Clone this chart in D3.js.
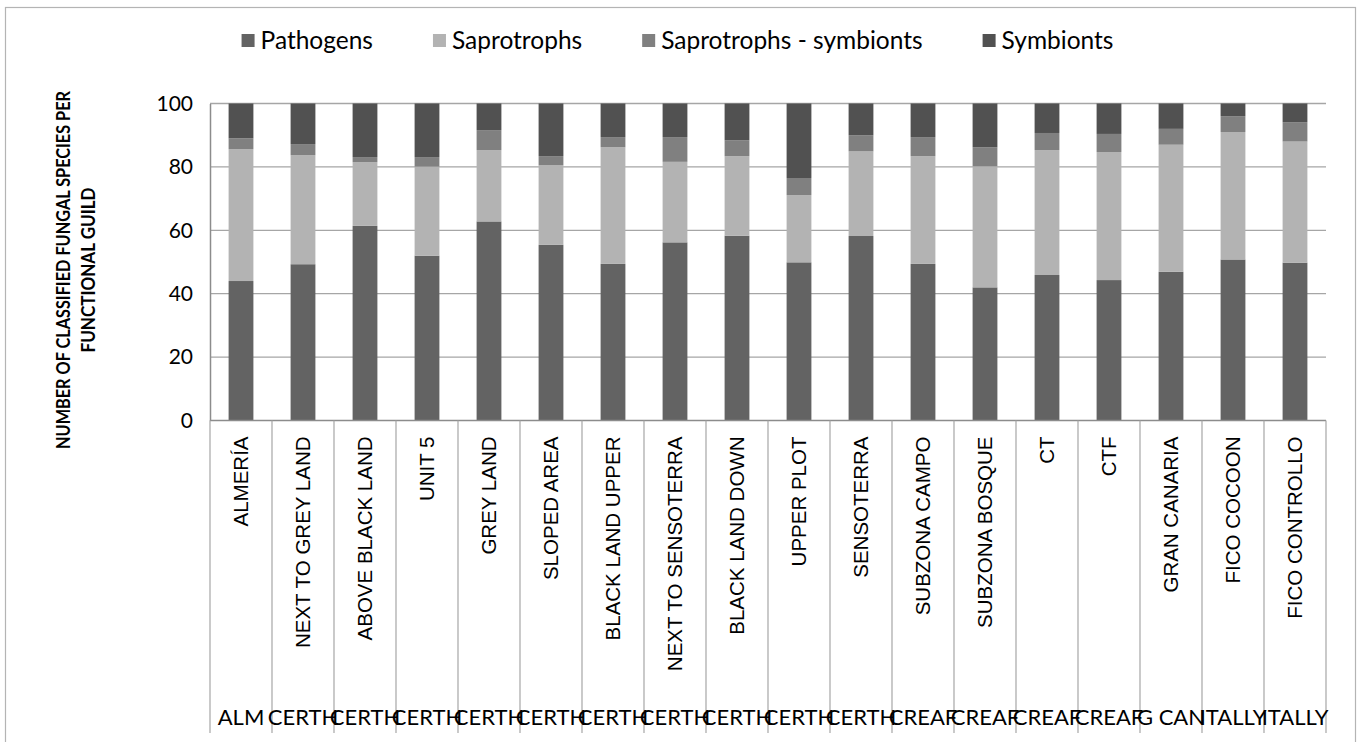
<!DOCTYPE html>
<html>
<head>
<meta charset="utf-8">
<script src="https://cdn.jsdelivr.net/npm/d3@7"></script>
<style>
  body { margin: 0; background: #fff; }
  svg { display: block; }
</style>
</head>
<body>
<div id="chart"></div>
<script>
// DATA
var sites = ["ALMERÍA", "NEXT TO GREY LAND", "ABOVE BLACK LAND", "UNIT 5", "GREY LAND",
  "SLOPED AREA", "BLACK LAND UPPER", "NEXT TO SENSOTERRA", "BLACK LAND DOWN", "UPPER PLOT",
  "SENSOTERRA", "SUBZONA CAMPO", "SUBZONA BOSQUE", "CT", "CTF", "GRAN CANARIA",
  "FICO COCOON", "FICO CONTROLLO"];
var groups = ["ALM", "CERTH", "CERTH", "CERTH", "CERTH", "CERTH", "CERTH", "CERTH", "CERTH",
  "CERTH", "CERTH", "CREAF", "CREAF", "CREAF", "CREAF", "G CAN", "ITALLY", "ITALLY"];
var guilds = ["Pathogens", "Saprotrophs", "Saprotrophs - symbionts", "Symbionts"];
var pathogens   = [44.0, 49.3, 61.4, 52.0, 62.8, 55.4, 49.4, 56.2, 58.3, 49.9, 58.2, 49.4, 42.0, 45.9, 44.3, 46.9, 50.8, 49.8];
var saprotrophs = [41.6, 34.4, 20.1, 28.1, 22.5, 25.1, 36.8, 25.4, 25.1, 21.2, 26.7, 34.0, 38.2, 39.4, 40.4, 40.1, 40.2, 38.2];
var sapSymb     = [3.4, 3.5, 1.6, 3.0, 6.3, 2.9, 3.2, 7.8, 5.0, 5.4, 5.1, 6.0, 6.0, 5.4, 5.7, 5.0, 5.0, 6.1];
var symbionts   = [11.0, 12.8, 16.9, 16.9, 8.4, 16.6, 10.6, 10.6, 11.6, 23.5, 10.0, 10.6, 13.8, 9.3, 9.6, 8.0, 4.0, 5.9];
var yTicks = [0, 20, 40, 60, 80, 100];

var colors = ["#636363", "#b3b3b3", "#808080", "#515151"];
var textFont = "Lato, 'Open Sans', sans-serif";

var W = 1363, H = 742;
var margin = {top: 103.5, left: 210, right: 37, bottom: 321.5};
var plotW = W - margin.left - margin.right,
    plotH = H - margin.top - margin.bottom;

var rows = sites.map(function(s, i) {
  return {site: s, group: groups[i],
    "Pathogens": pathogens[i], "Saprotrophs": saprotrophs[i],
    "Saprotrophs - symbionts": sapSymb[i], "Symbionts": symbionts[i]};
});

var svg = d3.select("#chart").append("svg")
  .attr("width", W)
  .attr("height", H);

// chart border
svg.append("rect")
  .attr("x", 5.5).attr("y", 7.5)
  .attr("width", 1350).attr("height", 760)
  .attr("fill", "none")
  .attr("stroke", "#b4b4b4")
  .attr("stroke-width", 1.2);

var g = svg.append("g")
  .attr("transform", "translate(" + margin.left + "," + margin.top + ")");

var x = d3.scaleBand()
  .domain(sites)
  .range([0, plotW])
  .paddingInner(0.6)
  .paddingOuter(0.3);

var y = d3.scaleLinear()
  .domain([0, 100])
  .range([plotH, 0]);

// gridlines
g.append("g").selectAll("line")
  .data(yTicks.slice(1))
  .enter().append("line")
  .attr("x1", 0).attr("x2", plotW)
  .attr("y1", function(d) { return y(d); })
  .attr("y2", function(d) { return y(d); })
  .attr("stroke", "#a6a6a6")
  .attr("stroke-width", 1.3);

// stacked bars
var stack = d3.stack().keys(guilds);
var series = stack(rows);

g.selectAll("g.layer")
  .data(series)
  .enter().append("g")
  .attr("class", "layer")
  .attr("fill", function(d, i) { return colors[i]; })
  .selectAll("rect")
  .data(function(d) { return d; })
  .enter().append("rect")
  .attr("x", function(d) { return x(d.data.site); })
  .attr("width", x.bandwidth())
  .attr("y", function(d) { return y(d[1]); })
  .attr("height", function(d) { return y(d[0]) - y(d[1]); });

// y axis
var yAxis = g.append("g")
  .call(d3.axisLeft(y).tickValues(yTicks).tickSize(0).tickPadding(17));
yAxis.select(".domain").attr("stroke", "#8c8c8c").attr("stroke-width", 1.5);
yAxis.selectAll("text")
  .attr("font-family", textFont)
  .attr("font-size", "21px")
  .attr("fill", "#000");

// category axis (two levels)
var step = x.step();
var bounds = d3.range(sites.length + 1).map(function(i) { return i * step; });

g.append("line")
  .attr("x1", 0).attr("x2", plotW)
  .attr("y1", plotH).attr("y2", plotH)
  .attr("stroke", "#8c8c8c").attr("stroke-width", 1.5);

g.append("g").selectAll("line")
  .data(bounds)
  .enter().append("line")
  .attr("x1", function(d) { return d; })
  .attr("x2", function(d) { return d; })
  .attr("y1", plotH)
  .attr("y2", 733 - margin.top)
  .attr("stroke", "#a6a6a6")
  .attr("stroke-width", 1.2);

// rotated site labels
g.append("g").selectAll("text")
  .data(sites)
  .enter().append("text")
  .attr("transform", function(d) {
    var cx = x(d) + x.bandwidth() / 2;
    return "translate(" + cx + "," + (plotH + 16) + ") rotate(-90)";
  })
  .attr("text-anchor", "end")
  .attr("dy", "0.35em")
  .attr("font-family", "'Liberation Sans', Arial, sans-serif")
  .attr("font-size", "20.5px")
  .attr("fill", "#000")
  .text(function(d) { return d; });

// group labels
g.append("g").selectAll("text")
  .data(rows)
  .enter().append("text")
  .attr("x", function(d) { return x(d.site) + x.bandwidth() / 2; })
  .attr("y", 725 - margin.top)
  .attr("text-anchor", "middle")
  .attr("font-family", textFont)
  .attr("font-size", "22px")
  .attr("fill", "#000")
  .text(function(d) { return d.group; });

// y axis title (two lines, squeezed like the narrow original font)
var title = svg.append("text")
  .attr("transform", "translate(63," + (margin.top + plotH / 2 + 8) + ") rotate(-90)")
  .attr("text-anchor", "middle")
  .attr("font-family", textFont)
  .attr("font-weight", "bold")
  .attr("font-size", "19px")
  .attr("fill", "#000");
title.append("tspan").attr("x", 0).attr("dy", "0.35em")
  .attr("textLength", 358).attr("lengthAdjust", "spacingAndGlyphs")
  .text("NUMBER OF CLASSIFIED FUNGAL SPECIES PER");
title.append("tspan").attr("x", 0).attr("dy", "1.35em")
  .attr("textLength", 165).attr("lengthAdjust", "spacingAndGlyphs")
  .text("FUNCTIONAL GUILD");

// LEGEND
var legend = svg.append("g").attr("transform", "translate(0,40)");
var items = legend.selectAll("g.item")
  .data(guilds)
  .enter().append("g")
  .attr("class", "item");

items.append("rect")
  .attr("width", 13).attr("height", 13)
  .attr("y", -6)
  .attr("fill", function(d, i) { return colors[i]; });

items.append("text")
  .attr("x", 19)
  .attr("dy", "0.35em")
  .attr("font-family", textFont)
  .attr("font-size", "24.5px")
  .attr("fill", "#000")
  .text(function(d) { return d; });

var widths = [];
items.each(function() { widths.push(this.getBBox().width); });
var gap = 60;
var total = d3.sum(widths) + gap * (widths.length - 1);
var pos = (W - total) / 2 - 4;
items.attr("transform", function(d, i) {
  var tx = pos;
  pos += widths[i] + gap;
  return "translate(" + tx + ",0)";
});
</script>
</body>
</html>
